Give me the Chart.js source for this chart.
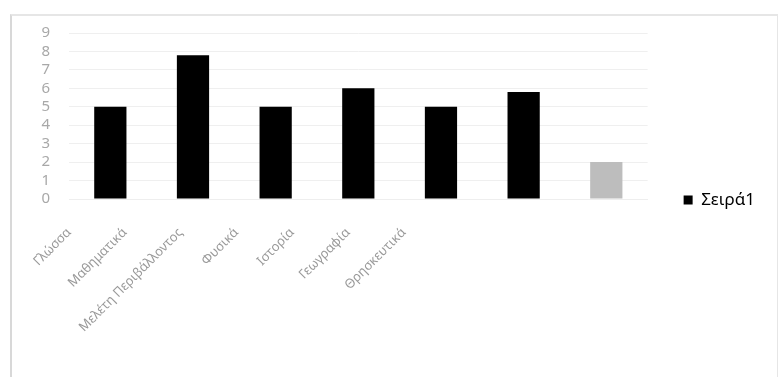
<!DOCTYPE html>
<html>
<head>
<meta charset="utf-8">
<script src="https://cdn.jsdelivr.net/npm/chart.js@4/dist/chart.umd.min.js"></script>
<style>
    html, body { margin: 0; padding: 0; background: #fff; }
    #frame {
        position: absolute; left: 10px; top: 14px; width: 765px; height: 363px;
        border-top: 2px solid #e6e6e6; border-left: 2px solid #d8d8d8; border-right: 1px solid #e6e6e6;
    }
    #wrap { position: absolute; left: 0; top: 0; width: 779px; height: 377px; }
</style>
</head>
<body>
<div id="frame"></div>
<div id="wrap"><canvas id="grafico"></canvas></div>
<script>
    // Μαθήματα και τιμές
    const mathimata = ['Γλώσσα', 'Μαθηματικά', 'Μελέτη Περιβάλλοντος', 'Φυσικά', 'Ιστορία', 'Γεωγραφία', 'Θρησκευτικά'];
    const seira1 = [5, 7.8, 5, 6, 5, 5.8, 2];
    const xromata = ['#000', '#000', '#000', '#000', '#000', '#000', '#bdbdbd'];
    const yTicks = [0, 1, 2, 3, 4, 5, 6, 7, 8, 9];

    const ctx = document.getElementById('grafico').getContext('2d');
    new Chart(ctx, {
        type: 'bar',
        data: {
            labels: mathimata,
            datasets: [{
                label: 'Σειρά1',
                data: seira1,
                backgroundColor: xromata,
                borderWidth: 0,
                categoryPercentage: 1,
                barPercentage: 0.39
            }]
        },
        options: {
            responsive: true,
            maintainAspectRatio: false,
            animation: false,
            layout: { padding: { left: 14, top: 33, right: 14, bottom: 10 } },
            plugins: {
                legend: {
                    position: 'right',
                    align: 'center',
                    labels: {
                        boxWidth: 9,
                        boxHeight: 9,
                        padding: 36,
                        color: '#111',
                        font: { family: 'Noto Sans', size: 17 },
                        generateLabels: chart => [{
                            text: 'Σειρά1', fillStyle: '#000', strokeStyle: '#000',
                            lineWidth: 0, hidden: false, datasetIndex: 0
                        }]
                    }
                },
                tooltip: { enabled: false }
            },
            scales: {
                x: {
                    grid: { display: false },
                    border: { color: '#eeeeee' },
                    ticks: { display: false },
                    afterFit: scale => { scale.height = 0; }
                },
                // άξονας μόνο για τις ετικέτες (πιο πυκνές όπως στο σκαναρισμένο)
                xl: {
                    type: 'linear',
                    position: 'bottom',
                    offset: false,
                    bounds: 'data',
                    min: 0,
                    max: 10.37,
                    afterBuildTicks: scale => { scale.ticks = mathimata.map((_, i) => ({ value: i })); },
                    grid: { display: false, offset: false },
                    border: { display: false },
                    ticks: {
                        autoSkip: false,
                        minRotation: 45,
                        maxRotation: 45,
                        padding: 18,
                        color: '#9a9a9a',
                        font: { family: 'Noto Sans', size: 13 },
                        callback: v => mathimata[v]
                    },
                    afterFit: scale => { scale.height = 168; }
                },
                y: {
                    min: 0,
                    max: 9,
                    afterBuildTicks: scale => { scale.ticks = yTicks.map(v => ({ value: v })); },
                    grid: { color: '#efefef', drawTicks: false },
                    border: { display: false },
                    ticks: {
                        autoSkip: false,
                        padding: 19,
                        color: '#a8a8a8',
                        font: { family: 'Noto Sans', size: 15 }
                    },
                    afterFit: scale => { scale.width = 55; }
                }
            }
        }
    });
</script>
</body>
</html>
